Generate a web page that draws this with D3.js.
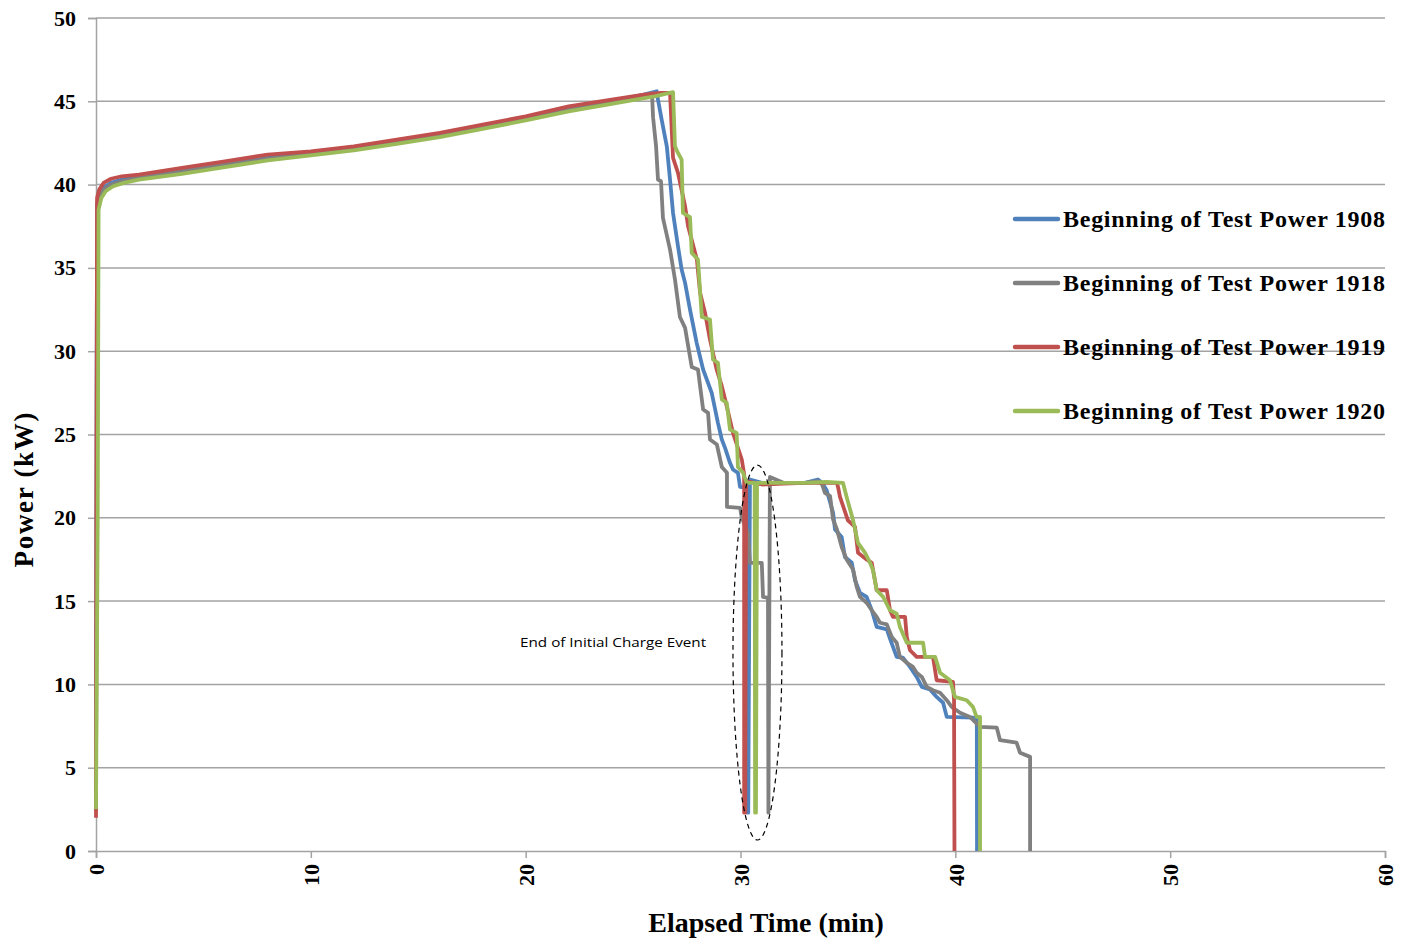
<!DOCTYPE html>
<html>
<head>
<meta charset="utf-8">
<script src="https://cdn.jsdelivr.net/npm/d3@7"></script>
<style>
  body { margin: 0; background: #fff; }
  svg { display: block; }
</style>
</head>
<body>
<svg id="ch" width="1410" height="942"></svg>
<script>
// series names, colours (legend order)
var names = ["Beginning of Test Power 1908", "Beginning of Test Power 1918",
             "Beginning of Test Power 1919", "Beginning of Test Power 1920"];
var colors = ["#4F81BD", "#808080", "#C0504D", "#9BBB59"];

var xTicks = [0, 10, 20, 30, 40, 50, 60];
var yTicks = [0, 5, 10, 15, 20, 25, 30, 35, 40, 45, 50];

// [elapsed min, kW]
var s1908 = [[0,2.4],[0.02,20],[0.05,38.8],[0.15,39.4],[0.35,39.8],[0.7,40.1],[1.2,40.3],[2,40.5],[4,40.85],[6,41.25],[8,41.6],[10,41.9],[12,42.2],[14,42.6],[16,43.0],[18,43.5],[20,44.0],[22,44.6],[24,45.0],[25.5,45.4],[26.1,45.6],
  [26.16,45.1],[26.33,43.9],[26.57,42.3],[26.72,40.3],[26.86,38.3],[27.09,36.3],[27.26,34.9],[27.42,34.1],[27.65,32.5],[27.96,30.5],[28.26,28.9],[28.66,27.5],[28.95,25.7],[29.13,24.7],[29.28,24.2],[29.51,23.3],[29.65,22.9],[29.88,22.7],[29.98,21.85],[30.3,21.8],[30.33,2.3],[30.36,2.3],[30.44,22.3],
  [31,22.1],[32,22.1],[33,22.1],[33.6,22.3],[33.8,22.1],[34.01,21.65],[34.31,20.3],[34.4,19.3],[34.71,18.85],[34.86,17.65],[35.18,17.3],[35.33,16.25],[35.56,15.5],[35.87,15.25],[36.11,14.45],[36.34,13.45],[36.81,13.3],[37.0,12.6],[37.27,11.65],[37.56,11.6],[37.89,11.05],[38.2,10.45],[38.44,9.85],[38.82,9.7],[39.13,9.25],[39.43,8.9],[39.6,8.05],[40.82,8.0],[41.0,8.0],[41.01,0]];

var s1918 = [[0,2.6],[0.02,20],[0.05,38.7],[0.15,39.3],[0.35,39.7],[0.7,40.0],[1.2,40.2],[2,40.4],[4,40.8],[6,41.2],[8,41.55],[10,41.85],[12,42.15],[14,42.55],[16,42.95],[18,43.45],[20,43.95],[22,44.5],[24,44.95],[25.5,45.35],[25.88,45.5],
  [25.93,44.05],[26.07,42.3],[26.16,40.3],[26.3,40.2],[26.39,38.0],[26.72,36.1],[26.95,34.3],[27.18,32.05],[27.42,31.4],[27.73,29.05],[28.02,28.9],[28.26,26.5],[28.49,26.3],[28.58,24.7],[28.9,24.4],[29.13,23.05],[29.37,22.7],[29.37,20.65],[29.98,20.6],[30.06,20.0],[30.35,19.1],[30.44,17.3],[30.99,17.3],[31.05,15.25],[31.28,15.2],[31.3,2.3],[31.37,22.45],
  [32,22.1],[33,22.1],[33.61,22.2],[33.8,22.0],[33.93,21.5],[34.17,21.3],[34.31,19.9],[34.49,19.3],[34.71,18.25],[34.94,17.5],[35.24,16.9],[35.41,15.85],[35.56,15.25],[35.87,14.9],[36.11,14.45],[36.34,14.05],[36.49,13.7],[36.81,13.6],[37.04,12.85],[37.27,12.5],[37.42,11.65],[37.74,11.3],[38.03,11.05],[38.2,10.7],[38.44,10.45],[38.67,9.85],[38.96,9.65],[39.29,9.5],[39.6,9.05],[39.83,8.65],[40.22,8.3],[40.68,8.05],[41.15,7.45],[41.93,7.4],[42.08,6.65],[42.85,6.5],[43.01,5.9],[43.48,5.65],[43.48,0]];

var s1919 = [[0,2.0],[0.02,20],[0.05,39.2],[0.15,39.7],[0.35,40.1],[0.7,40.35],[1.2,40.5],[2,40.6],[4,41.0],[6,41.4],[8,41.8],[10,42.0],[12,42.3],[14,42.7],[16,43.1],[18,43.6],[20,44.1],[22,44.7],[24,45.1],[25.5,45.4],[26.3,45.5],[26.72,45.5],
  [26.86,41.6],[27.09,40.7],[27.42,38.7],[27.56,37.5],[27.97,35.5],[28.12,33.5],[28.35,32.3],[28.58,30.7],[28.89,28.9],[29.13,27.9],[29.36,26.7],[29.65,25.1],[30.06,23.5],[30.17,22.6],[30.17,2.3],[30.22,2.3],[30.26,22.2],
  [31,22.0],[32,22.05],[33,22.1],[34.49,22.1],[34.54,21.85],[34.63,21.25],[35.0,19.85],[35.33,19.45],[35.47,17.9],[35.87,17.5],[36.11,17.3],[36.34,15.65],[36.81,15.65],[36.96,14.45],[37.1,14.05],[37.66,14.05],[37.74,12.85],[37.89,12.05],[38.2,11.65],[38.96,11.65],[39.13,10.25],[39.89,10.15],[39.94,9.05],[39.96,0]];

var s1920 = [[0,2.5],[0.08,20],[0.12,38.5],[0.25,39.2],[0.45,39.6],[0.8,39.9],[1.3,40.1],[2,40.3],[4,40.65],[6,41.05],[8,41.45],[10,41.75],[12,42.05],[14,42.45],[16,42.85],[18,43.35],[20,43.85],[22,44.4],[24,44.85],[26,45.3],[26.86,45.55],
  [26.95,42.3],[27.09,41.9],[27.26,41.5],[27.32,38.3],[27.65,38.05],[27.73,35.9],[28.02,35.5],[28.2,32.05],[28.58,31.9],[28.72,29.5],[28.95,29.3],[29.13,27.1],[29.36,26.9],[29.51,25.3],[29.82,25.1],[29.88,23.05],[30.12,22.7],[30.29,22.1],[30.66,22.1],[30.68,2.3],[30.72,2.3],[30.77,22.1],
  [31.5,22.1],[33,22.1],[34,22.15],[34.77,22.1],[34.94,21.25],[35.24,19.85],[35.47,18.5],[35.8,17.9],[36.03,17.3],[36.17,16.85],[36.34,15.65],[36.64,15.25],[36.96,14.45],[37.27,14.25],[37.42,13.45],[37.74,12.5],[38.5,12.5],[38.59,11.65],[39.06,11.65],[39.29,10.7],[39.75,10.25],[39.98,9.25],[40.53,9.05],[40.82,8.65],[40.99,8.05],[41.15,8.05],[41.15,0]];

var seriesData = [s1908, s1918, s1919, s1920];

// annotation ellipse: centre [min, kW], radii [min, kW]
var noteText = "End of Initial Charge Event";
var noteAt = [19.74, 12.25];
var ellipseC = [30.79, 11.91], ellipseR = [1.14, 11.25];

var margin = {left: 96, right: 25, top: 18, bottom: 91};
var width = 1410 - margin.left - margin.right,
    height = 942 - margin.top - margin.bottom;

var svg = d3.select("#ch");
var g = svg.append("g").attr("transform", "translate(" + margin.left + "," + margin.top + ")");

var x = d3.scaleLinear().domain([0, 60]).range([0, width]);
var y = d3.scaleLinear().domain([0, 50]).range([height, 0]);

var axisCol = "#a3a3a3";
var serif = "'Liberation Serif', 'Times New Roman', serif";

// gridlines
g.selectAll(".grid").data(yTicks.filter(function (d) { return d > 0; }))
  .enter().append("line")
  .attr("x1", 0).attr("x2", width)
  .attr("y1", function (d) { return y(d); }).attr("y2", function (d) { return y(d); })
  .style("stroke", axisCol).style("stroke-width", 1.5);

// y axis
var yAxis = g.append("g").call(d3.axisLeft(y).tickValues(yTicks).tickSize(8).tickPadding(12));
// x axis
var xAxis = g.append("g").attr("transform", "translate(0," + height + ")")
  .call(d3.axisBottom(x).tickValues(xTicks).tickSize(7));

[yAxis, xAxis].forEach(function (a) {
  a.select(".domain").style("stroke", axisCol).style("stroke-width", 1.5);
  a.selectAll(".tick line").style("stroke", axisCol).style("stroke-width", 1.5);
  a.selectAll("text").style("font-family", serif).style("font-weight", "bold")
    .style("font-size", "22px").style("fill", "#000");
});
xAxis.selectAll("text")
  .attr("transform", "rotate(-90)")
  .attr("x", -13).attr("y", 0).attr("dy", "0.35em")
  .style("text-anchor", "end");

// series
var line = d3.line()
  .x(function (d) { return x(d[0]); })
  .y(function (d) { return y(d[1]); });

g.selectAll(".series").data(seriesData).enter().append("path")
  .attr("class", "series")
  .attr("d", function (d) { return line(d); })
  .style("fill", "none")
  .style("stroke", function (d, i) { return colors[i]; })
  .style("stroke-width", 3.8)
  .style("stroke-linejoin", "round");

// annotation
g.append("ellipse")
  .attr("cx", x(ellipseC[0])).attr("cy", y(ellipseC[1]))
  .attr("rx", x(ellipseR[0]) - x(0)).attr("ry", y(0) - y(ellipseR[1]))
  .style("fill", "none").style("stroke", "#000").style("stroke-width", 1.2)
  .style("stroke-dasharray", "5,4");
g.append("text")
  .attr("x", x(noteAt[0])).attr("y", y(noteAt[1]))
  .attr("textLength", 186).attr("lengthAdjust", "spacingAndGlyphs")
  .style("font-family", "'Open Sans', 'Liberation Sans', sans-serif")
  .style("font-size", "13.5px").style("fill", "#000")
  .text(noteText);

// legend
var leg = svg.append("g").selectAll(".leg").data(names).enter().append("g")
  .attr("transform", function (d, i) { return "translate(1015," + (219 + i * 64) + ")"; });
leg.append("line").attr("x1", 0).attr("x2", 43)
  .style("stroke", function (d, i) { return colors[i]; })
  .style("stroke-width", 4.5).style("stroke-linecap", "round");
leg.append("text").attr("x", 48).attr("y", 8)
  .attr("textLength", 322).attr("lengthAdjust", "spacing")
  .style("font-family", serif).style("font-weight", "bold").style("font-size", "24px")
  .text(function (d) { return d; });

// axis titles
svg.append("text")
  .attr("transform", "translate(33,490) rotate(-90)")
  .style("text-anchor", "middle")
  .style("font-family", serif).style("font-weight", "bold").style("font-size", "27px")
  .attr("textLength", 155).attr("lengthAdjust", "spacing")
  .text("Power (kW)");
svg.append("text")
  .attr("x", 766).attr("y", 932)
  .style("text-anchor", "middle")
  .style("font-family", serif).style("font-weight", "bold").style("font-size", "28px")
  .text("Elapsed Time (min)");
</script>
</body>
</html>
